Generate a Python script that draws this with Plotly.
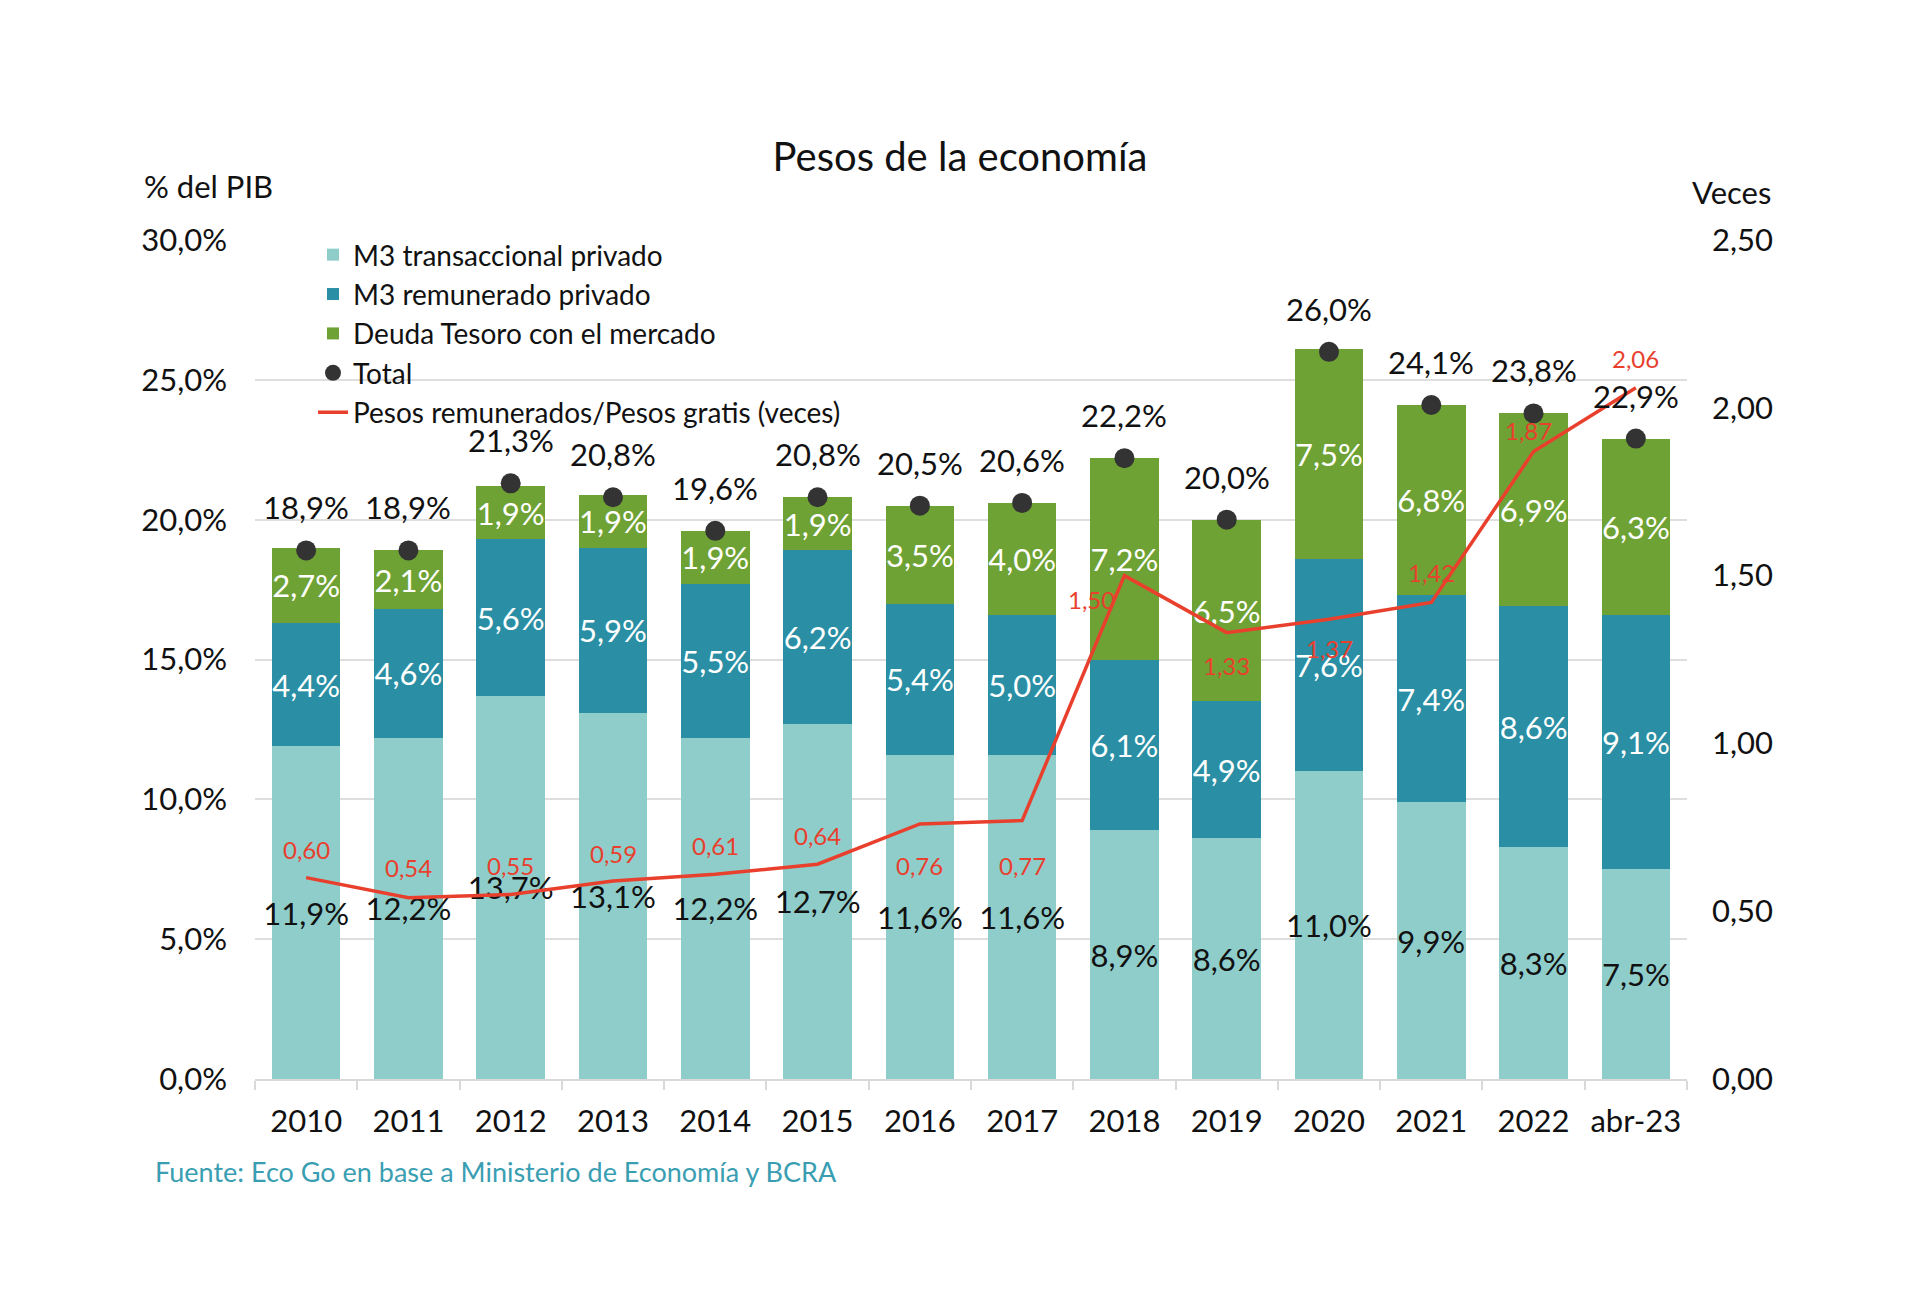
import plotly.graph_objects as go

categories = ["2010", "2011", "2012", "2013", "2014", "2015", "2016", "2017",
              "2018", "2019", "2020", "2021", "2022", "abr-23"]
m3_transaccional = [11.9, 12.2, 13.7, 13.1, 12.2, 12.7, 11.6, 11.6, 8.9, 8.6, 11.0, 9.9, 8.3, 7.5]
m3_remunerado = [4.4, 4.6, 5.6, 5.9, 5.5, 6.2, 5.4, 5.0, 6.1, 4.9, 7.6, 7.4, 8.6, 9.1]
deuda_tesoro = [2.7, 2.1, 1.9, 1.9, 1.9, 1.9, 3.5, 4.0, 7.2, 6.5, 7.5, 6.8, 6.9, 6.3]
total = [18.9, 18.9, 21.3, 20.8, 19.6, 20.8, 20.5, 20.6, 22.2, 20.0, 26.0, 24.1, 23.8, 22.9]
ratio = [0.60, 0.54, 0.55, 0.59, 0.61, 0.64, 0.76, 0.77, 1.50, 1.33, 1.37, 1.42, 1.87, 2.06]

# label placement for the ratio labels (style only)
ratio_label_shift = [(0, 28), (0, 30), (0, 29), (0, 28), (0, 29), (0, 29), (0, -42), (0, -45),
                     (-33, -24), (0, -33), (0, -29), (0, 30), (-5, 21), (0, 29)]

FONT = "Lato"
C_TRANS = "#8fcdcb"
C_REM = "#2a8fa4"
C_DOT = "#333333"
C_DEUDA = "#6fa234"
C_RED = "#e8402d"
FS = 31


def pct(v):
    return f"{v:.1f}".replace(".", ",") + "%"


fig = go.Figure()
fig.add_trace(go.Bar(
    x=categories, y=m3_transaccional, name="M3 transaccional privado",
    marker=dict(color=C_TRANS, line=dict(width=0)),
    text=[pct(v) for v in m3_transaccional], textposition="inside",
    insidetextanchor="middle", constraintext="none", textangle=0,
    textfont=dict(color="#111111", size=FS, family=FONT),
))
fig.add_trace(go.Bar(
    x=categories, y=m3_remunerado, name="M3 remunerado privado",
    marker=dict(color=C_REM, line=dict(width=0)),
    text=[pct(v) for v in m3_remunerado], textposition="inside",
    insidetextanchor="middle", constraintext="none", textangle=0,
    textfont=dict(color="white", size=FS, family=FONT),
))
fig.add_trace(go.Bar(
    x=categories, y=deuda_tesoro, name="Deuda Tesoro con el mercado",
    marker=dict(color=C_DEUDA, line=dict(width=0)),
    text=[pct(v) for v in deuda_tesoro], textposition="inside",
    insidetextanchor="middle", constraintext="none", textangle=0,
    textfont=dict(color="white", size=FS, family=FONT),
))
fig.add_trace(go.Scatter(
    x=categories, y=total, name="Total", mode="markers",
    marker=dict(color=C_DOT, size=20),
))
fig.add_trace(go.Scatter(
    x=categories, y=ratio, name="Pesos remunerados/Pesos gratis (veces)",
    mode="lines", yaxis="y2",
    line=dict(color=C_RED, width=3.5),
))

annotations = []
for i, t in enumerate(total):
    annotations.append(dict(x=i, y=t, xref="x", yref="y", text=pct(t), showarrow=False,
                            yshift=43, font=dict(size=FS, color="#111111", family=FONT)))
for i, (r, (dx, dy)) in enumerate(zip(ratio, ratio_label_shift)):
    annotations.append(dict(x=i, y=r, xref="x", yref="y2", text=f"{r:.2f}".replace(".", ","),
                            showarrow=False, xshift=dx, yshift=dy,
                            font=dict(size=24, color=C_RED, family=FONT)))

annotations += [
    dict(text="% del PIB", xref="paper", yref="paper", x=-0.079, y=1.064, xanchor="left",
         yanchor="middle", showarrow=False, font=dict(size=FS, color="#111111", family=FONT)),
    dict(text="Veces", xref="paper", yref="paper", x=1.002, y=1.057, xanchor="left",
         yanchor="middle", showarrow=False, font=dict(size=FS, color="#111111", family=FONT)),
    dict(text="Fuente: Eco Go en base a Ministerio de Economía y BCRA", xref="paper", yref="paper",
         x=-0.0712, y=-0.1097, xanchor="left", yanchor="middle", showarrow=False,
         font=dict(size=27, color="#3a9eb2", family=FONT)),
]

fig.update_layout(
    width=1920, height=1309,
    margin=dict(l=247, r=241, t=232, b=238),
    paper_bgcolor="white", plot_bgcolor="white",
    separators=",.",
    barmode="stack", bargap=0.33,
    font=dict(family=FONT, size=FS, color="#111111"),
    title=dict(text="Pesos de la economía", x=(960 - 8) / 1920, xref="container", xanchor="center",
               y=1 - 149 / 1309, yref="container", yanchor="middle",
               font=dict(size=40, color="#111111", family=FONT)),
    xaxis=dict(type="category", range=[-0.5, len(categories) - 0.5],
               showline=True, linecolor="#d9d9d9", linewidth=2,
               ticks="outside", tickson="boundaries", ticklen=9, tickcolor="#d9d9d9",
               tickwidth=2, showgrid=False, tickfont=dict(size=FS, family=FONT),
               ticklabelstandoff=14, tickangle=0),
    yaxis=dict(range=[0, 30], dtick=5, tickformat=".1f", ticksuffix="%",
               showgrid=True, gridcolor="#dedede", gridwidth=2, zeroline=False,
               showline=False, tickfont=dict(size=FS, family=FONT), ticklabelstandoff=27),
    yaxis2=dict(range=[0, 2.5], dtick=0.5, tickformat=".2f", overlaying="y", side="right",
                showgrid=False, zeroline=False, showline=False,
                tickfont=dict(size=FS, family=FONT), ticklabelstandoff=24),
    legend=dict(x=0.0405, y=1.012, xanchor="left", yanchor="top", traceorder="normal",
                bgcolor="rgba(0,0,0,0)", font=dict(size=28, family=FONT),
                tracegroupgap=0, itemsizing="trace"),
    annotations=annotations,
    showlegend=True,
)

fig.write_html("out.html")
